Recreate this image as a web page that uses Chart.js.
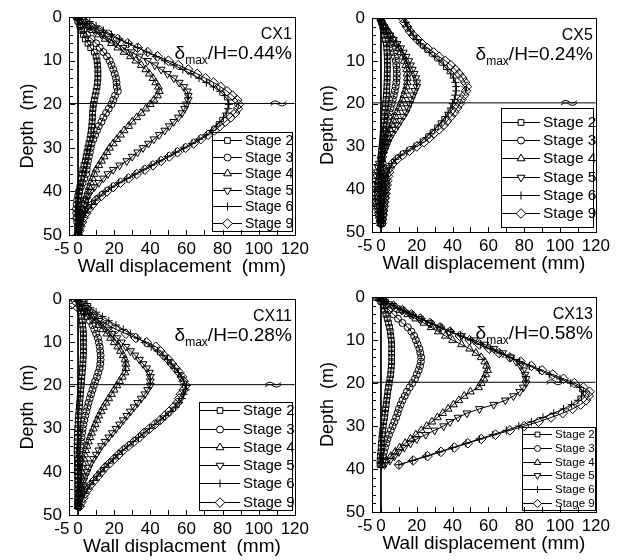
<!DOCTYPE html>
<html>
<head>
<meta charset="utf-8">
<script src="https://cdn.jsdelivr.net/npm/chart.js@4.4.0/dist/chart.umd.min.js"></script>
<style>
  html, body { margin: 0; padding: 0; background: #fff; }
  #wrap { position: relative; width: 627px; height: 560px; overflow: hidden; background: #fff; }
  #wrap canvas { position: absolute; }
</style>
</head>
<body>
<div id="wrap"></div>
<script>
// ---- data (depth in m, displacement in mm) ----
const panelNames = ['CX1', 'CX5', 'CX11', 'CX13'];
const ratioLabels = ['0.44%', '0.24%', '0.28%', '0.58%'];
const stageNames = ['Stage 2', 'Stage 3', 'Stage 4', 'Stage 5', 'Stage 6', 'Stage 9'];
const xTitles = ['Wall displacement  (mm)', 'Wall displacement (mm)', 'Wall displacment  (mm)', 'Wall displacement (mm)'];
const yTitles = ['Depth  (m)', 'Depth (m)', 'Depth  (m)', 'Depth  (m)'];
const xTickValues = [-5, 0, 20, 40, 60, 80, 100, 120];
const yTickValues = [0, 10, 20, 30, 40, 50];
const excavationDepth = [19.8, 19.8, 19.8, 19.8];
const breakMarkX = [111, 105, 108, 97];

const depthCX1 = [0,1,2,3,4,5,6,7,8,9,10,11,12,13,14,15,16,17,18,19,20,21,22,23,24,25,26,27,28,29,30,31,32,33,34,35,36,37,38,39,40,41,42,43,44,45,46,47,48,49,50];
const cx1Stage2 = [0,0.5,1,2,3,4,5.5,7,9,10, 10.5,10.8,11,11,11,10.8,10.5,10,9.5,9, 8.5,8.3,8,8,7.8,7.6,7.3,7,6.6,6, 5.5,5,4.5,4,3.3,2.7,2.2,1.8,1.4,1, 0.8,0.5,0.3,0.2,0.1,0,0,0,0,0, 0];
const cx1Stage3 = [-1,0,1.5,3,5,7.5,10,12,14,16, 17.5,18.5,19.5,20.3,21,21.3,21.5,22,20.5,19.5, 18.5,17,15.5,14,13,11.5,10.5,9.5,8.5,7.5, 7,6.5,6,5.5,5,4.8,4.5,3.5,2.5,1.5, 0.5,0,-0.5,-0.8,-1,-1,-0.8,-0.5,-0.3,0, 0];
const cx1Stage4 = [0,2,5,8,11.5,15,18.5,22,25.5,29, 32,35,37.5,39.5,41.5,43,44.5,45,44,42, 40,37.5,35,32.5,30,28,25.5,23.5,21.5,19.5, 17.5,16,14.5,13,11.5,10,9,8,7,6.2, 5.5,4.7,4,3.2,2.5,1.8,1.3,0.9,0.5,0.2, 0];
const cx1Stage5 = [0,2.5,5.5,9,13,17,21,25,29.5,34, 38.5,42.5,46,49.5,53,56,58.5,60.5,61,61, 60,59,57.5,55.5,53,50.5,48,45,42,39, 36,33,30,27,23,19.5,16.5,14,11.5,9, 7,5.5,4.5,3.5,2.8,2,1.5,1,0.6,0.3, 0];
const cx1Stage6 = [4,6.5,10,14,18.5,23,28,33,38,43, 48,53,58,62.5,67,71,75,78.5,81,83, 83.5,83,82,80.5,78.5,76.5,74,71,67,63, 58.5,54,49.5,45,40.5,36,31.5,27,22.5,18.5, 15,12,9.5,7.5,5.5,4,3,2,1.2,0.6, 0];
const cx1Stage9 = [0,3,7,12,17,22,27.5,33,38.5,44, 50,55.5,61,66,70.5,75,79,82.5,85.5,88, 89,88.5,87,84.5,81.5,78.5,75.5,72,68,64, 59.5,55,50.5,46,41.5,37,32.5,28,23.5,19.5, 16,13,10,8,6,4.5,3.2,2.2,1.4,0.7, 0];

const depthCX5 = [0,1,2,3,4,5,6,7,8,9,10,11,12,13,14,15,16,17,18,19,20,21,22,23,24,25,26,27,28,29,30,31,32,33,34,35,36,37,38,39,40,41,42,43,44,45,46,47,48];
const cx5Stage2 = [0,0.5,1,1.5,2,2.5,3,3.2,3.4,3.5, 3.6,3.6,3.6,3.5,3.5,3.4,3.3,3.2,3,2.8, 2.6,2.4,2.2,2,1.8,1.6,1.4,1.2,1,0.8, 0.6,0.4,0.2,0,0,0,0,0,0,0, 0,0,0,0,0,0,0,0,0];
const cx5Stage3 = [0,0.5,1.5,2.5,3.5,4.5,5.5,6.5,7.2,7.8, 8.3,8.6,8.8,8.9,8.8,8.6,8.2,7.7,7.2,6.6, 6,5.4,4.8,4.2,3.7,3.2,2.7,2.2,1.8,1.4, 1,0.6,0.3,0.5,1,1.5,2,2.5,2.8,2.8, 2.7,2.5,2.3,2,1.8,1.5,1.3,1,0.8];
const cx5Stage4 = [0,1,2.5,4,5.5,7,8.5,10,11,12, 13,13.8,14.3,14.6,14.8,14.7,14.3,13.5,12.8,12, 11,10,9,8,7,6,5,4,3.2,2.5, 2,1.5,1,0.5,0,-0.5,-0.8,-1,-1.2,-1.2, -1.1,-1,-0.9,-0.8,-0.7,-0.6,-0.5,-0.4,-0.3];
const cx5Stage5 = [-1,0,1.5,3,5,7,9,11,12.5,14, 15.5,16.5,17.5,18.5,19.5,20,20,19,18,17, 16,15,14,12.5,11,9.5,8,6.5,5,4, 3,2,1,0,-1,-1.5,-2,-2.5,-3,-3.3, -3.5,-3.5,-3.3,-3,-2.5,-2,-1.5,-1,-0.5];
const cx5Stage6 = [13,14,15,16.5,18,20,22,24.5,27,30, 32.5,35,37,39,40.5,41.5,42,42,41.5,41, 40,39,37.5,36,34,32,30,27.5,25,22, 18.5,14.5,11,8,6,4.5,3.5,3,2.5,2.2, 2,1.8,1.5,1.3,1.1,0.9,0.7,0.5,0.3];
const cx5Stage9 = [12,13,14.5,16,18,20.5,23,26,29.5,32.5, 36,39,41.5,43.5,45.5,47,48,47.5,46.5,45, 44,42.5,41,39,37,35,32.5,29.5,27,24, 20,16,12,9,6.5,5,4.5,4,3.5,3.2, 2.8,2.5,2.2,1.9,1.6,1.3,1,0.7,0.4];

const depthCX11 = [0,1,2,3,4,5,6,7,8,9,10,11,12,13,14,15,16,17,18,19,20,21,22,23,24,25,26,27,28,29,30,31,32,33,34,35,36,37,38,39,40,41,42,43,44,45,46,47,48];
const cx11Stage2 = [0,0.5,1,1.5,2,2.3,2.6,2.8,3,3, 3,3,3,2.9,2.8,2.7,2.5,2.3,2.1,1.9, 1.7,1.5,1.3,1.1,0.9,0.7,0.5,0.3,0.1,0, -0.2,-0.3,-0.4,-0.5,-0.5,-0.5,-0.5,-0.4,-0.4,-0.3, -0.3,-0.2,-0.2,-0.1,-0.1,0,0,0,0];
const cx11Stage3 = [0,1,2,3.5,5,6.5,8,9,10,11, 11.5,12,12.3,12.5,12.5,12.3,12,11.2,10.5,9.5, 8.7,8,7.2,6.5,5.8,5.2,4.6,4,3.5,3, 2.6,2.2,1.9,1.6,1.3,1,0.8,0.6,0.5,0.4, 0.3,0.2,0.2,0.1,0.1,0,0,0,0];
const cx11Stage4 = [0,1.5,3.5,5.5,7.5,9.5,11.5,13.5,16,18, 20,22,23.5,25,26,26.5,26.5,26,24.5,23, 21.5,20,18.5,17,15.5,14,12.8,11.5,10.5,9.5, 8.5,7.5,6.6,5.8,5,4.3,3.7,3.2,2.7,2.3, 2,1.7,1.4,1.1,0.8,0.6,0.4,0.2,0];
const cx11Stage5 = [0,2,4,6.5,9,11.5,14,16.5,19,21.5, 24,26.5,29,31.5,34,36,38,39.5,40,40, 40,38.5,37,35,33,31,29,27,25,23, 21,19,17,15,13,11.5,10,8.5,7,6, 5,4,3.2,2.5,2,1.5,1,0.6,0.3];
const cx11Stage6 = [4,5,7,10,13.5,17,21,25,29,33, 37,40.5,44,47,49.5,51.5,53.5,55.5,57,58.5, 60,59.5,58.5,57.5,56,54,51.5,48.5,45.5,42.5, 39.5,36.5,33.5,30.5,27.5,24.5,22,19.5,17,14.5, 12.5,10.5,8.5,6.5,5,3.5,2.5,1.5,1];
const cx11Stage9 = [-4,-3,0,4,8,12,16.5,21,26.5,32, 38,43,45.5,47.5,50,52,54,56,57.5,58.5, 59.5,58.5,57,56,55,53,50.5,48,45.5,42.5, 39.5,36.5,34,31,28,25,22.5,20,17.5,15, 13,11,9,7,5.5,4,3,2,1];

const depthCX13 = [0,1,2,3,4,5,6,7,8,9,10,11,12,13,14,15,16,17,18,19,20,21,22,23,24,25,26,27,28,29,30,31,32,33,34,35,36,37,38,39];
const cx13Stage2 = [0,0.5,1.2,2,2.8,3.5,4.2,4.8,5.2,5.5, 5.8,6,6,6,6,6,5.8,5.6,5.4,5, 4.6,4.2,3.8,3.5,3.2,2.9,2.6,2.3,2,1.6, 1.3,1,0.7,0.5,0.3,0.1,0,-0.3,-0.5,-0.5];
const cx13Stage3 = [-3,0,2,4.5,7,9.5,12,15,17,18.5, 19.5,20.5,21.5,22,22.5,22.3,21.8,21,20,19, 17.5,16,14.5,13.3,12,11,10,9.3,8.5,7.5, 6.5,5.5,4.5,3.6,3,2.3,1.7,1.2,0.7,0.3];
const cx13Stage4 = [-1,2,6,10.5,15,19.5,24,28,32,36, 40,45,49.5,53,56,58,59,59.5,58.5,57.5, 56,54.5,50,46.5,43.5,40.5,37.5,34.5,31.5,28.5, 25.5,22.5,19.5,16.5,13.5,10.5,8,5.5,3,1];
const cx13Stage5 = [-1,2,6.5,11.5,16.5,21.5,27,32.5,38,45, 52,58,63,68,72.5,75.5,78,79.5,80.5,81, 81,79.5,77.5,74,69.5,63,55,48,43,38.5, 35,30,25,20,16.5,13,10,7.5,5,2];
const cx13Stage6 = [0,3,7.5,12.5,17.5,22.5,28,33.5,39,44.5, 50,55.5,61,66.5,72,77.5,83,88.5,94,100, 106,111,113,112,110,106.5,102,96.5,90.5,84, 77,70,62.5,55,47.5,40,32.5,25,17.5,10];
const cx13Stage9 = [-2,2,7,12,17,22,27.5,33,38.5,44, 49.5,55,60.5,66,72,78,84,90,96,102, 108,113,116.5,116,114.5,111.5,107,101.5,95,88, 80,72,64,56,48.5,41,33.5,26,18,10];

const panelDepths = [depthCX1, depthCX5, depthCX11, depthCX13];
const panelStages = [
    [cx1Stage2, cx1Stage3, cx1Stage4, cx1Stage5, cx1Stage6, cx1Stage9],
    [cx5Stage2, cx5Stage3, cx5Stage4, cx5Stage5, cx5Stage6, cx5Stage9],
    [cx11Stage2, cx11Stage3, cx11Stage4, cx11Stage5, cx11Stage6, cx11Stage9],
    [cx13Stage2, cx13Stage3, cx13Stage4, cx13Stage5, cx13Stage6, cx13Stage9]
];

// ---- layout / styles ----
const FONT = "'Liberation Sans', Arial, Helvetica, sans-serif";
// plot area of each panel in page pixels: left, top, width, height
const plotBoxes = [[69, 15, 230, 220], [372, 16, 228, 216], [69, 297, 230, 218], [372, 295, 228, 217]];
const yTitlePad = [17, 14, 17, 14];
const legendBoxes = [
    { w: 80, h: 99, inR: 3, inB: 4, row: 16.5, font: 14, line: 29, ms: 1 },
    { w: 92, h: 119, inR: 3, inB: 5, row: 18.3, font: 15.5, line: 38, ms: 1 },
    { w: 93, h: 108, inR: 3, inB: 5, row: 18.3, font: 15, line: 40, ms: 1 },
    { w: 73, h: 83, inR: 1, inB: 2, row: 13.8, font: 11.5, line: 29, ms: 0.85 }
];
const stageStyles = [
    { pointStyle: 'rect', radius: 4, rotation: 0 },
    { pointStyle: 'circle', radius: 3.5, rotation: 0 },
    { pointStyle: 'triangle', radius: 4.5, rotation: 0 },
    { pointStyle: 'triangle', radius: 4.5, rotation: 180 },
    { pointStyle: 'cross', radius: 4, rotation: 0 },
    { pointStyle: 'rectRot', radius: 4.8, rotation: 0 }
];

// frame, inward ticks, labels, break mark and legend
const panelDecor = {
    id: 'panelDecor',
    afterDraw(chart, args, opts) {
        const ctx = chart.ctx;
        const a = chart.chartArea;
        const xs = chart.scales.x, ys = chart.scales.y;
        ctx.save();
        ctx.strokeStyle = '#000';
        ctx.fillStyle = '#000';
        ctx.lineWidth = 1;

        // frame
        ctx.strokeRect(Math.round(a.left) + 0.5, Math.round(a.top) + 0.5, Math.round(a.right - a.left), Math.round(a.bottom - a.top));

        // ticks pointing into the plot
        ctx.beginPath();
        for (let v = 0; v <= 120; v += 10) {
            const px = Math.round(xs.getPixelForValue(v)) + 0.5;
            ctx.moveTo(px, a.bottom);
            ctx.lineTo(px, a.bottom - 5);
        }
        for (let d = 2; d < 50; d += 2) {
            const py = Math.round(ys.getPixelForValue(d)) + 0.5;
            ctx.moveTo(a.left, py);
            ctx.lineTo(a.left + (d % 10 === 0 ? 6 : 4), py);
        }
        ctx.stroke();

        // break mark on the excavation line
        const bx = xs.getPixelForValue(opts.breakX);
        const by = ys.getPixelForValue(opts.exc);
        ctx.beginPath();
        for (const off of [-1.2, 1.2]) {
            ctx.moveTo(bx - 8, by + off + 1);
            ctx.quadraticCurveTo(bx - 4, by + off - 3, bx, by + off);
            ctx.quadraticCurveTo(bx + 4, by + off + 3, bx + 8, by + off - 1);
        }
        ctx.stroke();

        // well name and ratio
        const right = a.right - 3;
        ctx.textBaseline = 'alphabetic';
        ctx.textAlign = 'right';
        ctx.font = '16px ' + FONT;
        ctx.fillText(opts.name, right, a.top + 22);
        const main = '/H=' + opts.ratio;
        ctx.font = '19px ' + FONT;
        const w1 = ctx.measureText(main).width;
        ctx.fillText(main, right, a.top + 42);
        ctx.font = '12px ' + FONT;
        const w2 = ctx.measureText('max').width;
        ctx.fillText('max', right - w1, a.top + 47);
        ctx.font = '19px ' + FONT;
        ctx.fillText('\u03b4', right - w1 - w2, a.top + 42);

        // legend
        const lg = opts.legend;
        const lx = Math.round(a.right - lg.inR - lg.w), ly = Math.round(a.bottom - lg.inB - lg.h);
        ctx.strokeRect(lx + 0.5, ly + 0.5, lg.w, lg.h);
        const first = ly + (lg.h - 5 * lg.row) / 2;
        ctx.font = lg.font + 'px ' + FONT;
        ctx.textAlign = 'left';
        ctx.textBaseline = 'middle';
        chart.data.datasets.filter(ds => ds.isStage).forEach((ds, k) => {
            const cy = Math.round(first + k * lg.row) + 0.5;
            ctx.beginPath();
            ctx.moveTo(lx + 1, cy);
            ctx.lineTo(lx + 1 + lg.line, cy);
            ctx.stroke();
            ctx.fillStyle = '#fff';
            Chart.helpers.drawPoint(ctx, {
                pointStyle: ds.pointStyle,
                radius: ds.pointRadius * lg.ms,
                rotation: ds.pointRotation,
                borderWidth: 1
            }, lx + 1 + lg.line / 2, cy);
            ctx.fillStyle = '#000';
            ctx.fillText(ds.label, lx + lg.line + 4, cy + 0.5);
        });
        ctx.restore();
    }
};

function buildPanel(i) {
    const [pl, pt, pw, ph] = plotBoxes[i];
    const canvas = document.createElement('canvas');
    const cw = pw + 83, chh = ph + 61;
    canvas.width = cw;
    canvas.height = chh;
    canvas.style.left = (pl - 69) + 'px';
    canvas.style.top = (pt - 15) + 'px';
    canvas.style.width = cw + 'px';
    canvas.style.height = chh + 'px';
    document.getElementById('wrap').appendChild(canvas);

    const depth = panelDepths[i];
    const datasets = panelStages[i].map((vals, s) => ({
        label: stageNames[s],
        isStage: true,
        data: depth.map((d, j) => ({ x: vals[j], y: d })),
        showLine: true,
        borderColor: '#000',
        borderWidth: 1,
        pointStyle: stageStyles[s].pointStyle,
        pointRadius: stageStyles[s].radius,
        pointRotation: stageStyles[s].rotation,
        pointBorderColor: '#000',
        pointBorderWidth: 1,
        pointBackgroundColor: 'rgba(255,255,255,0)'
    }));
    // excavation level and zero-displacement line
    datasets.push({
        data: [{ x: -5, y: excavationDepth[i] }, { x: 120, y: excavationDepth[i] }],
        showLine: true, borderColor: '#000', borderWidth: 1, pointRadius: 0
    });
    datasets.push({
        data: [{ x: 0, y: 0 }, { x: 0, y: 50 }],
        showLine: true, borderColor: '#000', borderWidth: 1, pointRadius: 0
    });

    new Chart(canvas.getContext('2d'), {
        type: 'scatter',
        data: { datasets: datasets },
        options: {
            responsive: false,
            animation: false,
            devicePixelRatio: 1,
            layout: { padding: { top: 15, right: 14, left: 0, bottom: 0 } },
            plugins: {
                legend: { display: false },
                tooltip: { enabled: false },
                panelDecor: {
                    name: panelNames[i],
                    ratio: ratioLabels[i],
                    exc: excavationDepth[i],
                    breakX: breakMarkX[i],
                    legend: legendBoxes[i]
                }
            },
            scales: {
                x: {
                    type: 'linear', min: -5, max: 120, position: 'bottom',
                    afterBuildTicks: s => { s.ticks = xTickValues.map(v => ({ value: v })); },
                    afterFit: s => { s.height = 46; },
                    grid: { display: false, drawTicks: false },
                    border: { display: false },
                    ticks: {
                        autoSkip: false, maxRotation: 0, minRotation: 0, padding: 4,
                        color: '#000', font: { family: FONT, size: 17 },
                        callback: v => (v === -5 ? '-5   ' : String(v))
                    },
                    title: {
                        display: true, text: xTitles[i], color: '#000',
                        font: { family: FONT, size: 19 },
                        padding: { top: 0, bottom: 3 }
                    }
                },
                y: {
                    type: 'linear', min: 0, max: 50, reverse: true, position: 'left',
                    afterBuildTicks: s => { s.ticks = yTickValues.map(v => ({ value: v })); },
                    afterFit: s => { s.width = 69; },
                    grid: { display: false, drawTicks: false },
                    border: { display: false },
                    ticks: {
                        padding: 7, color: '#000', font: { family: FONT, size: 17 }
                    },
                    title: {
                        display: true, text: yTitles[i], color: '#000',
                        font: { family: FONT, size: 18 },
                        padding: { top: yTitlePad[i], bottom: 0 }
                    }
                }
            }
        },
        plugins: [panelDecor]
    });
}

for (let i = 0; i < 4; i++) buildPanel(i);
</script>
</body>
</html>
